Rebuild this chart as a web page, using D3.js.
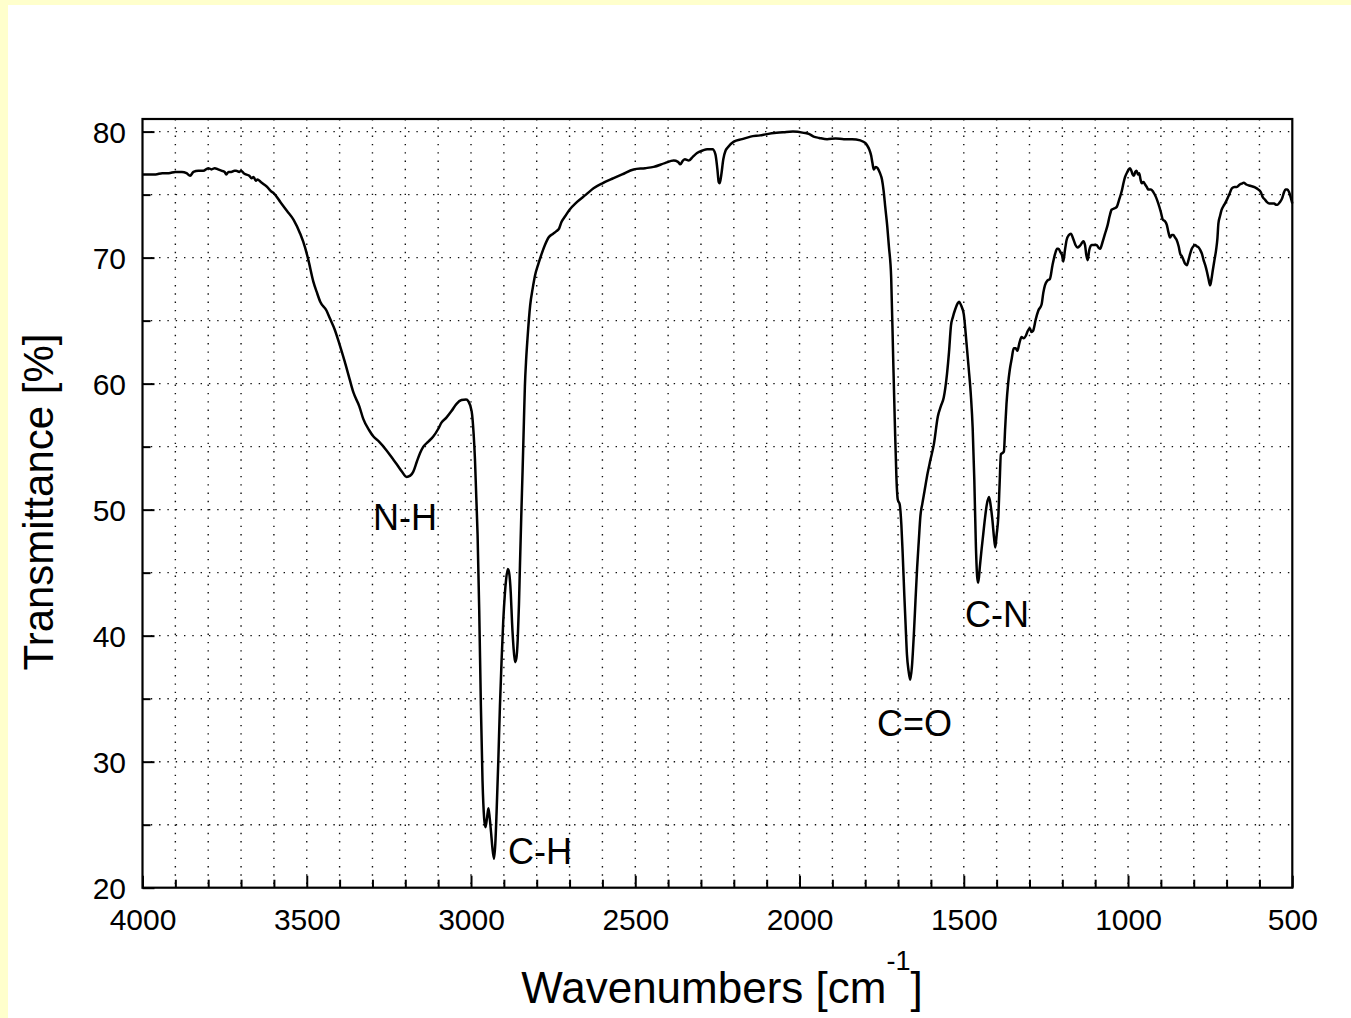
<!DOCTYPE html>
<html><head><meta charset="utf-8">
<script src="https://cdn.jsdelivr.net/npm/d3@7"></script>
<style>
body{margin:0;background:#fff}
svg{display:block}
text{font-family:"Liberation Sans",Arial,Helvetica,sans-serif;fill:#000}
</style>
</head><body>
<svg id="chart" width="1351" height="1018"></svg>
<script>
// ---- data ----
const wavenumbers = [
4000,3980,3960,3940,3920,3900,3880,3866,3855,3845,3830,3815,3800,3790,3780,3770,3760,3750,3745,3738,3730,3720,3715,3705,3700,3692,3685,3675,3668,3662,3655,3650,3640,3630,3620,3610,3600,3580,3560,3540,3520,3505,3495,3480,3470,3459,3440,3430,3415,3400,3385,3370,3358,3340,3328,3310,3297,3280,3257,3240,3226,3210,3196,3185,3176,3165,3155,3145,3130,3115,3100,3090,3075,3060,3044,3029,3015,3008,2998,2992,2988,2984,2980,2975,2970,2965,2960,2956,2951,2947,2943,2939,2935,2930,2926,2922,2917,2912,2907,2902,2897,2893,2888,2884,2879,2875,2871,2866,2862,2858,2854,2851,2847,2843,2839,2836,2832,2828,2820,2812,2805,2795,2785,2775,2764,2750,2740,2732,2725,2713,2700,2678,2650,2627,2600,2566,2540,2505,2470,2444,2410,2383,2370,2363,2355,2349,2337,2325,2312,2295,2281,2265,2256,2250,2246,2243,2238,2232,2225,2220,2200,2175,2149,2120,2099,2070,2048,2020,1987,1970,1957,1940,1916,1890,1865,1840,1815,1800,1794,1788,1782,1778,1774,1768,1762,1755,1749,1744,1739,1733,1728,1721,1715,1710,1705,1701,1695,1690,1686,1681,1677,1673,1668,1663,1658,1652,1647,1642,1637,1632,1626,1620,1610,1602,1591,1579,1570,1561,1551,1545,1539,1533,1526,1518,1514,1508,1500,1492,1485,1478,1473,1468,1463,1459,1456,1451,1446,1441,1436,1430,1423,1418,1413,1408,1404,1400,1395,1391,1387,1382,1378,1374,1370,1365,1360,1354,1348,1342,1337,1330,1324,1318,1311,1305,1299,1294,1289,1281,1273,1263,1258,1253,1245,1238,1230,1222,1216,1212,1205,1201,1197,1192,1187,1180,1174,1167,1160,1154,1148,1142,1136,1131,1127,1123,1118,1111,1103,1096,1090,1085,1078,1070,1062,1056,1050,1042,1035,1027,1019,1014,1009,1002,994,990,986,982,978,974,970,966,962,958,953,948,943,938,930,923,915,908,900,894,888,882,877,872,867,862,857,852,846,841,836,831,826,821,816,811,806,801,796,791,785,780,775,770,765,760,755,750,746,742,737,732,728,725,720,715,707,699,692,684,676,669,660,652,648,640,628,615,603,596,590,583,577,570,562,555,550,545,538,531,525,521,515,510,505,500
];
const transmittance = [
76.6,76.6,76.6,76.7,76.7,76.8,76.8,76.7,76.5,76.8,76.9,76.9,77.1,77.0,77.1,77.0,76.9,76.8,76.6,76.8,76.8,76.9,76.9,76.8,76.9,76.7,76.6,76.5,76.3,76.4,76.1,76.2,76.0,75.8,75.6,75.3,75.1,74.4,73.7,73.0,71.9,70.8,69.8,68.1,67.3,66.5,65.8,65.2,64.3,63.1,61.8,60.4,59.3,58.2,57.2,56.3,55.8,55.4,54.7,54.1,53.6,53.0,52.6,52.7,53.0,53.8,54.5,55.0,55.4,55.8,56.4,56.9,57.3,57.8,58.4,58.7,58.75,58.6,57.8,56.0,54.0,51.0,48.0,42.0,34.5,28.5,25.5,24.8,25.6,26.3,25.5,24.4,23.2,22.3,23.5,26.1,30.0,34.4,38.0,41.1,43.3,44.5,45.3,45.0,43.4,41.0,39.2,37.9,38.2,39.6,42.5,45.6,49.5,53.1,57.0,59.8,62.0,63.6,66.2,67.6,68.6,69.5,70.3,71.0,71.6,71.9,72.1,72.3,72.8,73.3,73.8,74.4,75.0,75.5,75.9,76.3,76.6,77.0,77.1,77.2,77.5,77.7,77.6,77.4,77.7,77.8,77.7,78.0,78.3,78.5,78.6,78.6,78.2,77.0,76.0,75.9,76.6,77.8,78.5,78.7,79.2,79.4,79.6,79.7,79.8,79.9,79.95,80.0,79.9,79.8,79.6,79.5,79.4,79.45,79.4,79.4,79.3,79.1,78.9,78.6,78.1,77.5,77.0,77.2,77.1,76.7,76.2,75.3,74.0,72.5,70.9,68.4,62.1,57.0,52.5,50.8,50.4,48.8,46.5,43.2,40.8,38.5,37.2,36.5,37.5,40.1,42.8,45.4,47.5,49.5,50.5,51.4,52.9,53.9,55.2,57.4,58.2,58.9,60.8,62.5,64.6,65.3,65.9,66.4,66.5,66.2,65.5,63.3,61.2,58.9,56.5,52.4,47.0,44.6,44.2,45.5,46.8,48.0,49.2,50.4,51.0,50.3,49.2,47.8,47.0,48.0,49.4,52.0,54.4,54.5,54.6,56.5,58.4,60.0,61.1,62.0,62.8,62.8,62.6,63.3,63.7,63.6,63.8,64.2,64.4,64.1,64.2,65.1,65.8,66.3,67.2,67.8,68.2,68.3,69.4,70.3,70.7,70.7,70.4,70.2,69.7,70.6,71.4,71.8,71.9,71.5,71.0,70.8,70.9,71.1,71.3,71.0,70.2,69.8,70.6,71.0,71.0,71.0,70.8,70.7,71.2,71.9,72.6,73.3,73.8,73.9,74.0,74.6,75.3,75.9,76.4,76.8,77.1,76.9,76.6,76.5,76.8,76.9,76.6,76.7,76.2,75.9,76.0,75.8,75.6,75.4,75.4,75.2,74.8,74.3,73.6,73.0,72.9,72.6,72.0,71.6,71.8,71.8,71.6,71.4,70.9,70.3,70.1,69.8,69.5,69.4,69.8,70.3,70.7,70.9,71.0,70.9,70.8,70.6,70.3,69.8,69.4,68.9,68.3,67.8,68.3,69.0,69.8,70.6,71.5,72.7,73.3,73.8,74.2,74.6,75.0,75.5,75.6,75.6,75.8,75.9,75.95,75.8,75.7,75.6,75.4,75.2,74.8,74.6,74.4,74.3,74.3,74.3,74.2,74.2,74.4,74.7,75.2,75.4,75.4,75.2,74.8,74.3
];
const xMajorTicks = [4000,3500,3000,2500,2000,1500,1000,500];
const xTickLabels = ["4000","3500","3000","2500","2000","1500","1000","500"];
const yMajorTicks = [20,30,40,50,60,70,80];
const yTickLabels = ["20","30","40","50","60","70","80"];
const annotationLabels = ["N-H","C-H","C=O","C-N"];
const annotationWavenumbers = [3201,2790,1650,1399];
const annotationTransmittance = [48.4,21.9,32.0,40.7];

// ---- layout ----
const svg = d3.select("#chart");
const W = 1351, H = 1018;
const pLeft = 142.5, pRight = 1292.3, pTop = 119, pBottom = 887.7;

svg.append("rect").attr("width", W).attr("height", H).attr("fill", "#FFFFCC");
svg.append("rect").attr("x", 8).attr("y", 5).attr("width", W - 8).attr("height", H - 5).attr("fill", "#fff");

const x = d3.scaleLinear().domain([4000, 500]).range([pLeft, pRight]);
const y = d3.scaleLinear().domain([20, 81]).range([pBottom, pTop]);

const xMinor = d3.range(3900, 500, -100).filter(v => v % 500 !== 0);
const yMinor = [25,35,45,55,65,75];
const xGrid = d3.range(3900, 500, -100);
const yGrid = d3.range(25, 81, 5);

// grid (dotted)
const grid = svg.append("g").attr("stroke", "#111").attr("stroke-width", 1.4).attr("stroke-dasharray", "1.4 6.9");
grid.selectAll("line.v").data(xGrid).join("line").attr("class", "v")
  .attr("x1", d => x(d)).attr("x2", d => x(d)).attr("y1", pTop).attr("y2", pBottom);
grid.selectAll("line.h").data(yGrid).join("line").attr("class", "h")
  .attr("x1", pLeft).attr("x2", pRight).attr("y1", d => y(d)).attr("y2", d => y(d));

// axes
const xAxis = svg.append("g").attr("transform", `translate(0,${pBottom})`)
  .call(d3.axisBottom(x).tickValues(xMajorTicks).tickFormat((d, i) => xTickLabels[i]).tickSize(-12).tickPadding(21));
xAxis.select(".domain").remove();
xAxis.selectAll("line").attr("stroke", "#000").attr("stroke-width", 2);
xAxis.selectAll("text").attr("font-size", 30).attr("font-family", "Liberation Sans, Arial, sans-serif").attr("fill", "#000");

const xAxisMinor = svg.append("g").attr("transform", `translate(0,${pBottom})`)
  .call(d3.axisBottom(x).tickValues(xMinor).tickFormat("").tickSize(-8));
xAxisMinor.select(".domain").remove();
xAxisMinor.selectAll("line").attr("stroke", "#000").attr("stroke-width", 2);

const yAxis = svg.append("g").attr("transform", `translate(${pLeft},0)`)
  .call(d3.axisLeft(y).tickValues(yMajorTicks).tickFormat((d, i) => yTickLabels[i]).tickSize(-12).tickPadding(16.5));
yAxis.select(".domain").remove();
yAxis.selectAll("line").attr("stroke", "#000").attr("stroke-width", 2);
yAxis.selectAll("text").attr("font-size", 30).attr("dy", "0.35em").attr("font-family", "Liberation Sans, Arial, sans-serif").attr("fill", "#000");

const yAxisMinor = svg.append("g").attr("transform", `translate(${pLeft},0)`)
  .call(d3.axisLeft(y).tickValues(yMinor).tickFormat("").tickSize(-8));
yAxisMinor.select(".domain").remove();
yAxisMinor.selectAll("line").attr("stroke", "#000").attr("stroke-width", 2);

// spectrum
const pts = wavenumbers.map((w, i) => [w, transmittance[i]]);
svg.append("path").datum(pts)
  .attr("fill", "none").attr("stroke", "#000").attr("stroke-width", 2.5).attr("stroke-linejoin", "round")
  .attr("d", d3.line().x(d => x(d[0])).y(d => y(d[1])).curve(d3.curveMonotoneX));

// frame
svg.append("rect").attr("x", pLeft).attr("y", pTop).attr("width", pRight - pLeft).attr("height", pBottom - pTop)
  .attr("fill", "none").attr("stroke", "#000").attr("stroke-width", 2.2);

// annotations
svg.append("g").selectAll("text").data(annotationLabels).join("text")
  .attr("x", (d, i) => x(annotationWavenumbers[i]))
  .attr("y", (d, i) => y(annotationTransmittance[i]))
  .attr("text-anchor", "middle").attr("font-size", 36)
  .text(d => d);

// axis titles
const xt = svg.append("text").attr("x", 722).attr("y", 1003).attr("text-anchor", "middle").attr("font-size", 44);
xt.append("tspan").text("Wavenumbers [cm");
xt.append("tspan").attr("font-size", 27).attr("dy", -33).text("-1");
xt.append("tspan").attr("dy", 33).text("]");

svg.append("text").attr("transform", "translate(52.5,502) rotate(-90)")
  .attr("text-anchor", "middle").attr("font-size", 42).text("Transmittance [%]");
</script>
</body></html>
